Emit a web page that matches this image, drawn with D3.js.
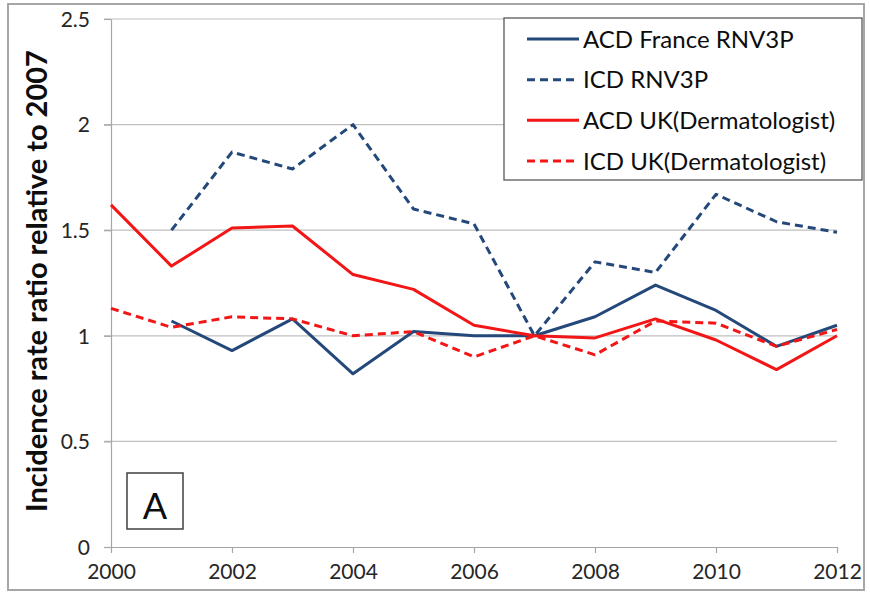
<!DOCTYPE html>
<html>
<head>
<meta charset="utf-8">
<script src="https://cdn.jsdelivr.net/npm/d3@7"></script>
<style>
  body { margin: 0; background: #fff; }
  svg text { font-family: Lato, "Noto Sans", sans-serif; }
</style>
</head>
<body>
<svg id="chart" width="870" height="592"></svg>
<script>
// values, relative to 2007
var years = [2000, 2001, 2002, 2003, 2004, 2005, 2006, 2007, 2008, 2009, 2010, 2011, 2012];
var acdFrance = [null, 1.07, 0.93, 1.08, 0.82, 1.02, 1.00, 1.00, 1.09, 1.24, 1.12, 0.95, 1.05];
var icdRnv3p  = [null, 1.50, 1.87, 1.79, 2.00, 1.60, 1.53, 1.00, 1.35, 1.30, 1.67, 1.54, 1.49];
var acdUK     = [1.62, 1.33, 1.51, 1.52, 1.29, 1.22, 1.05, 1.00, 0.99, 1.08, 0.98, 0.84, 1.00];
var icdUK     = [1.13, 1.04, 1.09, 1.08, 1.00, 1.02, 0.90, 1.00, 0.91, 1.07, 1.06, 0.95, 1.03];

var seriesNames = ["ACD France RNV3P", "ICD RNV3P", "ACD UK(Dermatologist)", "ICD UK(Dermatologist)"];
var yTicks = [0, 0.5, 1, 1.5, 2, 2.5];
var xTicks = [2000, 2002, 2004, 2006, 2008, 2010, 2012];

var blue = "#24487a", red = "#f21616";
var series = [
    {name: seriesNames[0], values: acdFrance, color: blue, dash: null},
    {name: seriesNames[1], values: icdRnv3p, color: blue, dash: "8,5"},
    {name: seriesNames[2], values: acdUK, color: red, dash: null},
    {name: seriesNames[3], values: icdUK, color: red, dash: "8,5"}
];

var svg = d3.select("#chart");

//outer frame
svg.append("rect")
    .attr("x", 8).attr("y", 4)
    .attr("width", 856).attr("height", 586)
    .attr("fill", "none")
    .attr("stroke", "#a6a6a6")
    .attr("stroke-width", 2);

var x = d3.scaleLinear().domain([2000, 2012]).range([111, 837]);
var y = d3.scaleLinear().domain([0, 2.5]).range([547, 19]);

//horizontal grid lines
svg.append("g").selectAll("line")
    .data(yTicks.slice(1))
    .enter()
    .append("line")
    .attr("x1", 104).attr("x2", x(2012))
    .attr("y1", d => y(d)).attr("y2", d => y(d))
    .attr("stroke", "#bfbfbf")
    .attr("stroke-width", 1.2);

//y axis
var yAxis = svg.append("g")
    .attr("transform", "translate(" + x(2000) + ",0)")
    .call(d3.axisLeft(y).tickValues(yTicks).tickSize(7).tickSizeOuter(0).tickPadding(14)
        .tickFormat(d => String(d)));

//x axis
var xAxis = svg.append("g")
    .attr("transform", "translate(0," + y(0) + ")")
    .call(d3.axisBottom(x).tickValues(xTicks).tickSize(6).tickSizeOuter(0).tickPadding(11)
        .tickFormat(d => String(d)));

[yAxis, xAxis].forEach(function (ax) {
    ax.select(".domain").attr("stroke", "#a6a6a6").attr("stroke-width", 1.2);
    ax.selectAll(".tick line").attr("stroke", "#a6a6a6").attr("stroke-width", 1.2);
    ax.selectAll(".tick text")
        .attr("fill", "#262626")
        .style("font-size", "21px");
});
yAxis.selectAll(".tick text").attr("dy", "0.35em");

//y axis title
svg.append("text")
    .attr("transform", "translate(47,281) rotate(-90)")
    .attr("text-anchor", "middle")
    .attr("fill", "#0d0d0d")
    .style("font-size", "29px")
    .style("font-weight", "bold")
    .text("Incidence rate ratio relative to 2007");

//lines
var line = d3.line()
    .defined(d => d.v != null)
    .x(d => x(d.year))
    .y(d => y(d.v));

svg.append("g").selectAll("path")
    .data(series)
    .enter()
    .append("path")
    .attr("d", s => line(years.map((yr, i) => ({year: yr, v: s.values[i]}))))
    .attr("fill", "none")
    .attr("stroke", s => s.color)
    .attr("stroke-width", 3)
    .attr("stroke-dasharray", s => s.dash)
    .attr("stroke-linejoin", "round");

//legend
var legend = svg.append("g");
legend.append("rect")
    .attr("x", 504).attr("y", 18)
    .attr("width", 358).attr("height", 162)
    .attr("fill", "#fff")
    .attr("stroke", "#595959")
    .attr("stroke-width", 1.3);

var rowY = d3.scalePoint().domain(seriesNames).range([39, 161]);
var rows = legend.selectAll("g.row")
    .data(series)
    .enter()
    .append("g")
    .attr("class", "row")
    .attr("transform", s => "translate(0," + rowY(s.name) + ")");
rows.append("line")
    .attr("x1", 527).attr("x2", 579)
    .attr("stroke", s => s.color)
    .attr("stroke-width", 3)
    .attr("stroke-dasharray", s => s.dash);
rows.append("text")
    .attr("x", 583)
    .attr("dy", "0.36em")
    .attr("fill", "#0d0d0d")
    .style("font-size", "24px")
    .text(s => s.name);

//panel label
svg.append("rect")
    .attr("x", 127).attr("y", 473)
    .attr("width", 56).attr("height", 56)
    .attr("fill", "#fff")
    .attr("stroke", "#404040")
    .attr("stroke-width", 1.5);
svg.append("text")
    .attr("x", 155).attr("y", 519)
    .attr("text-anchor", "middle")
    .attr("fill", "#0d0d0d")
    .style("font-size", "36px")
    .text("A");
</script>
</body>
</html>
